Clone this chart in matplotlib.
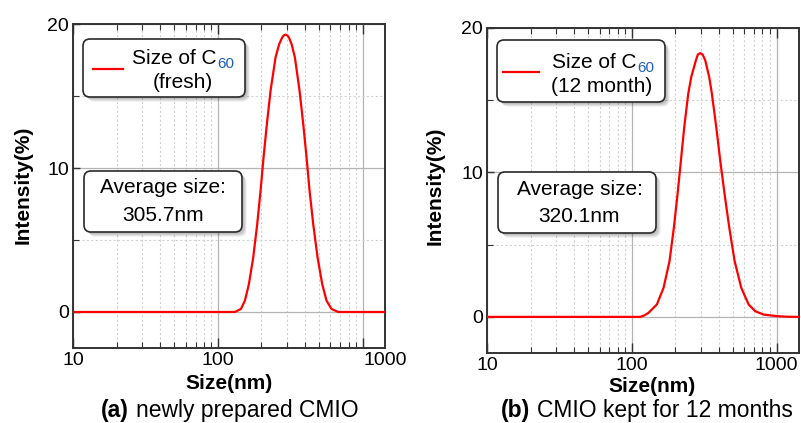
import matplotlib
matplotlib.use('Agg')
import matplotlib.pyplot as plt
from matplotlib.patches import FancyBboxPatch
from matplotlib.lines import Line2D
from matplotlib.transforms import IdentityTransform, ScaledTranslation
from matplotlib.ticker import LogLocator, NullFormatter, FixedLocator, FixedFormatter

plt.rcParams['font.family'] = ['Liberation Sans', 'DejaVu Sans']

# ---------------- data ----------------
fresh_size = [10, 125, 131.1, 144.2, 153.7, 163.8, 175.5, 187.0, 197.2, 206.8, 218.1, 231.2,
              250.4, 265.4, 278.4, 285.8, 293.6, 301.5, 309.6, 322.9, 340.5, 366.8, 388.9,
              410.1, 430.1, 455.9, 488.5, 526.1, 563.6, 610.3, 678.6, 1430]
fresh_intensity = [0, 0, 0, 0.21, 0.79, 1.94, 3.80, 6.11, 8.43, 10.74, 13.06, 15.37,
                   17.69, 18.61, 19.07, 19.21, 19.26, 19.21, 19.07, 18.61, 17.69, 15.37, 13.06,
                   10.74, 8.43, 6.11, 3.80, 1.94, 0.79, 0.21, 0, 0]

month_size = [10, 105, 114.3, 122, 130.5, 149.1, 165.8, 182.4, 195.4, 207.2, 218.5, 230.4, 245.5,
              257.5, 277.4, 286.3, 297.2, 308.4, 321.9, 342.9, 357.8, 383.5, 408.6, 437.8,
              471.7, 513.4, 571.0, 641.8, 713.6, 814.8, 1007.6, 1200, 1430]
month_intensity = [0, 0, 0, 0.1, 0.28, 0.86, 2.01, 3.87, 6.18, 8.50, 10.81, 13.13, 15.44,
                   16.60, 17.76, 18.17, 18.26, 18.17, 17.76, 16.60, 15.44, 13.13, 10.81, 8.50,
                   6.18, 3.87, 2.01, 0.86, 0.39, 0.16, 0.05, 0.01, 0]

x_ticks = [10, 100, 1000]
x_tick_labels = ['10', '100', '1000']
y_ticks = [0, 10, 20]
y_minor_ticks = [5, 15]
y_tick_labels = ['0', '10', '20']
x_label = 'Size(nm)'
y_label = 'Intensity(%)'
legend_main = 'Size of C'
legend_sub = '60'
legend_names = ['(fresh)', '(12 month)']
average_title = 'Average size:'
average_sizes = ['305.7nm', '320.1nm']
caption_tags = ['(a)', '(b)']
captions = ['newly prepared CMIO', 'CMIO kept for 12 months']

# ---------------- figure ----------------
W, H = 801, 423
fig = plt.figure(figsize=(W / 100, H / 100), dpi=100)


def fx(x):
    return x / W


def fy(y):
    return 1 - y / H


ax1 = fig.add_axes([fx(73.3), fy(348), 311.7 / W, 324 / H])
ax2 = fig.add_axes([fx(487), fy(353), 312 / W, 325 / H])

spine_col = '#333333'
for ax, xs, ys in [(ax1, fresh_size, fresh_intensity), (ax2, month_size, month_intensity)]:
    ax.set_xscale('log')
    ax.set_xlim(10, 1430)
    ax.set_ylim(-2.5, 20)
    ax.xaxis.set_major_locator(FixedLocator(x_ticks))
    ax.xaxis.set_major_formatter(FixedFormatter(x_tick_labels))
    ax.xaxis.set_minor_locator(LogLocator(base=10, subs=range(2, 10)))
    ax.xaxis.set_minor_formatter(NullFormatter())
    ax.yaxis.set_major_locator(FixedLocator(y_ticks))
    ax.yaxis.set_major_formatter(FixedFormatter(y_tick_labels))
    ax.yaxis.set_minor_locator(FixedLocator(y_minor_ticks))
    ax.grid(which='major', color='#b4b4b4', lw=0.9, ls='-')
    ax.grid(which='minor', color='#d2d2d2', lw=0.8, ls=(0, (2, 2)))
    ax.set_axisbelow(True)
    ax.tick_params(axis='x', which='both', direction='in', top=True, bottom=True,
                   labelsize=14, pad=3, color=spine_col)
    ax.tick_params(axis='x', which='major', length=7, width=1)
    ax.tick_params(axis='x', which='minor', length=4, width=0.8)
    ax.tick_params(axis='y', which='both', direction='in', left=True, right=False,
                   labelsize=14, pad=3, color=spine_col)
    ax.tick_params(axis='y', which='major', length=5, width=1)
    ax.tick_params(axis='y', which='minor', length=4, width=0.8)
    for s in ax.spines.values():
        s.set_color(spine_col)
        s.set_linewidth(1.4)
    ax.plot(xs, ys, color='#ff0000', lw=1.6, zorder=3, solid_joinstyle='round')

# left panel: 1000 label sits at the right end of the axis
ax1.xaxis.set_major_formatter(FixedFormatter(['10', '100', '']))
ax1.text(1.0, 0, '1000', transform=ax1.transAxes + ScaledTranslation(0, -3 / 72, fig.dpi_scale_trans),
         ha='center', va='top', fontsize=14)


def box(x0, y0, x1, y1):
    w, h = x1 - x0, y1 - y0
    for i in range(5):
        sh = FancyBboxPatch((x0 + 1.5 + i * 0.8, H - y1 - 1.5 - i * 0.8), w, h,
                            boxstyle='round,pad=0,rounding_size=7', transform=IdentityTransform(),
                            fc='black', ec='none', alpha=0.06, zorder=5)
        fig.add_artist(sh)
    main = FancyBboxPatch((x0, H - y1), w, h, boxstyle='round,pad=0,rounding_size=7',
                          transform=IdentityTransform(), fc='white', ec='#2a2a2a', lw=1.2, zorder=6)
    fig.add_artist(main)


def txt(x, y, s, **kw):
    kw.setdefault('fontsize', 15)
    kw.setdefault('va', 'baseline')
    kw.setdefault('zorder', 7)
    fig.text(fx(x), fy(y), s, **kw)


# legend boxes
box(83, 39, 245, 97)
box(497, 40, 665, 102)
fig.add_artist(Line2D([fx(93), fx(123)], [fy(69), fy(69)], color='#ff0000', lw=1.6, zorder=7))
fig.add_artist(Line2D([fx(503), fx(539)], [fy(72), fy(72)], color='#ff0000', lw=1.6, zorder=7))
txt(217, 64, legend_main, ha='right')
txt(217.5, 67.5, legend_sub, ha='left', fontsize=11, color='#1f5fb4')
txt(183, 88, legend_names[0], ha='center')
txt(637, 68, legend_main, ha='right')
txt(637.5, 71.5, legend_sub, ha='left', fontsize=11, color='#1f5fb4')
txt(602, 92, legend_names[1], ha='center')

# average boxes
box(84, 171, 242, 232)
box(498, 172, 656, 233)
txt(163, 193, average_title, ha='center')
txt(163, 220.5, average_sizes[0], ha='center')
txt(580, 195, average_title, ha='center')
txt(579, 221.5, average_sizes[1], ha='center')

# axis labels
txt(229, 383, x_label, ha='center', va='center', fontweight='bold')
txt(652, 386, x_label, ha='center', va='center', fontweight='bold')
txt(23, 185, y_label, ha='center', va='center', fontweight='bold', rotation=90)
txt(435, 186, y_label, ha='center', va='center', fontweight='bold', rotation=90)

# captions
txt(100.7, 417.3, caption_tags[0], ha='left', fontsize=16.5, fontweight='bold')
txt(136.5, 417.3, captions[0], ha='left', fontsize=16.5)
txt(500.7, 417.3, caption_tags[1], ha='left', fontsize=16.5, fontweight='bold')
txt(537, 417.3, captions[1], ha='left', fontsize=16.5)

fig.savefig('out.png', dpi=100)
